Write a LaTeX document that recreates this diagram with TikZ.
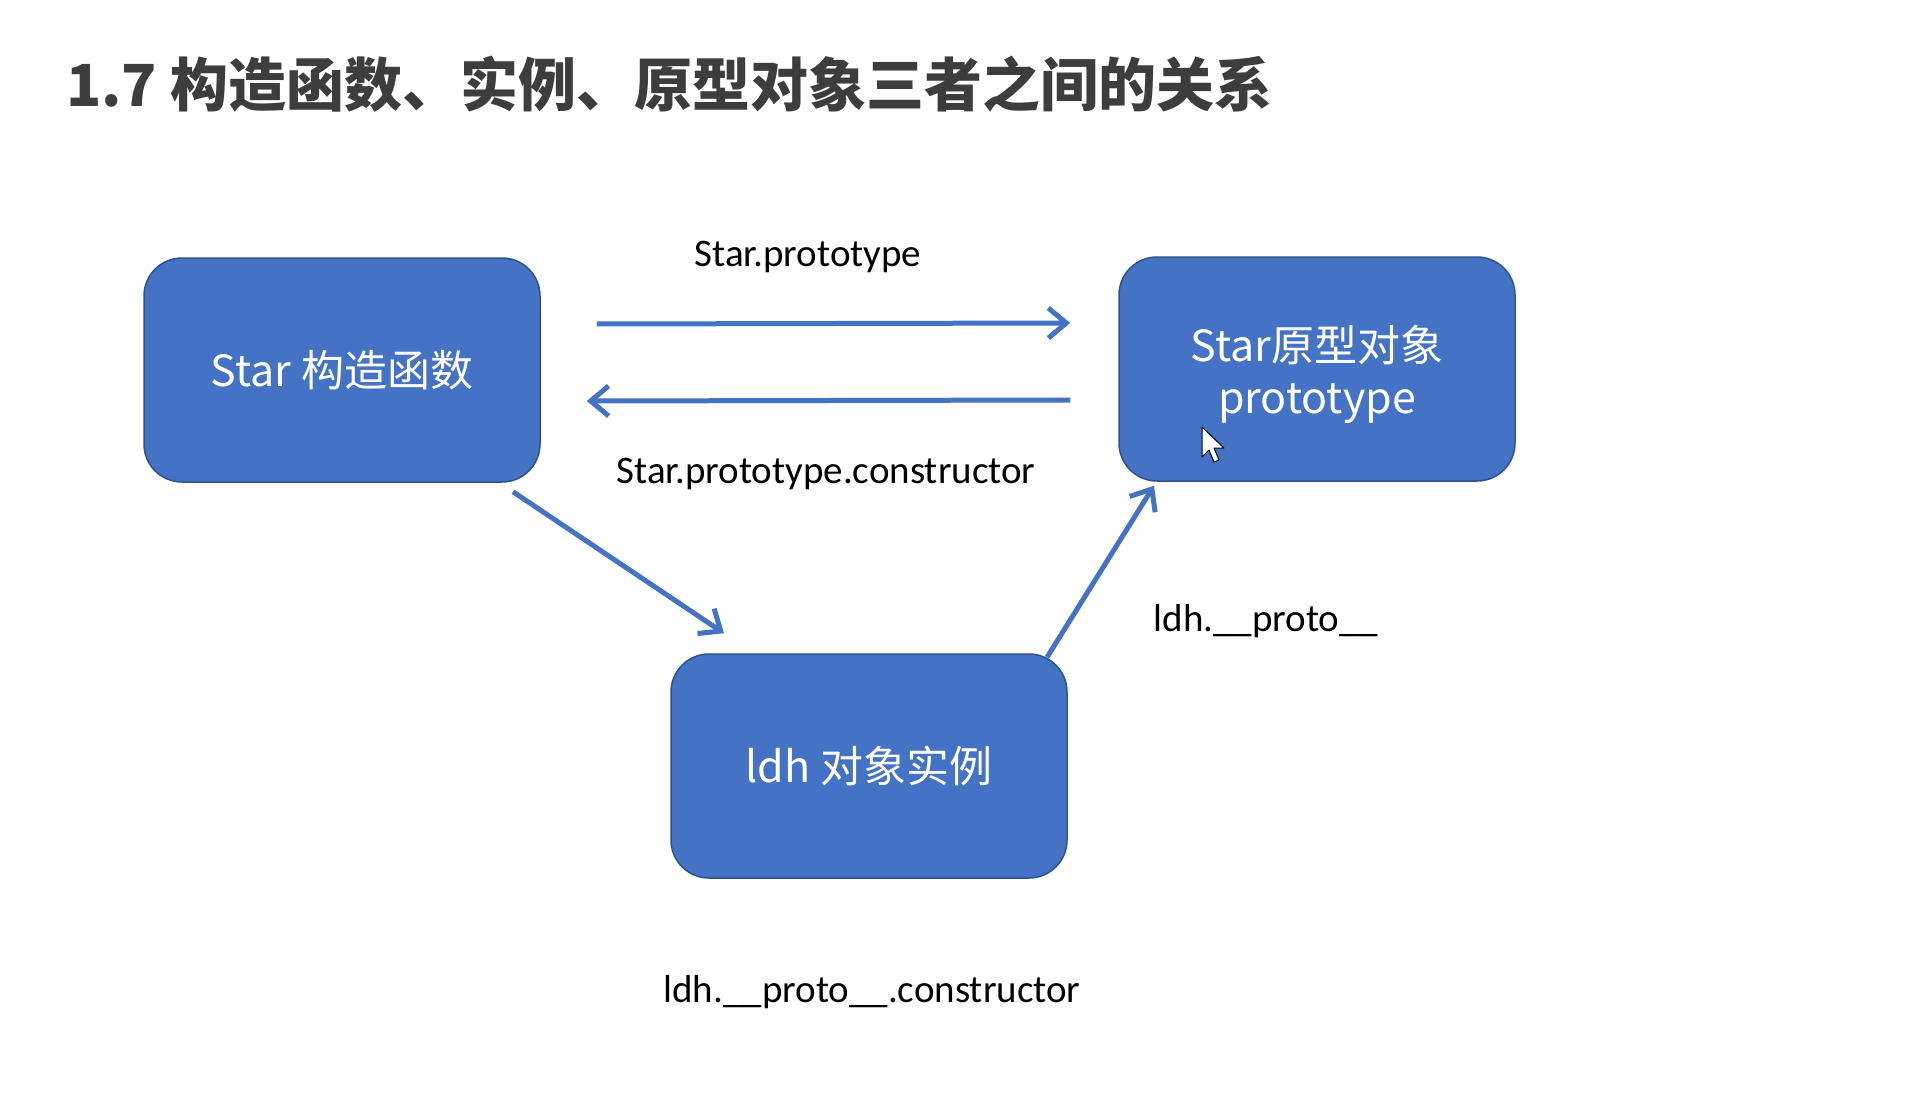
\documentclass[tikz,border=0pt]{standalone}
\usepackage{fontspec}
\newfontfamily\cjk{Noto Sans CJK SC}
\newfontfamily\lbl{Carlito}
\usetikzlibrary{arrows.meta,calc}
\definecolor{boxblue}{HTML}{4472C4}
\definecolor{boxedge}{HTML}{2F528F}
\definecolor{titlegray}{HTML}{3D3D3D}
\begin{document}
\begin{tikzpicture}[x=1pt,y=-1pt,
 box/.style={draw=boxedge, line width=1.5pt, fill=boxblue, rounded corners=38pt,
   minimum width=396pt, minimum height=224pt, inner sep=0pt, text=white,
   align=center, font=\cjk\fontsize{43}{52}\selectfont},
 conn/.style={draw=boxblue, line width=5pt, -{Straight Barb[length=18pt,width=30pt]}},
 lab/.style={font=\lbl\fontsize{39}{46}\selectfont, text=black, inner sep=0pt}]
\useasboundingbox (0,0) rectangle (1920,1097);
\fill[white] (0,0) rectangle (1920,1097);

\node[anchor=west, inner sep=0pt, text=titlegray, font=\cjk\bfseries\fontsize{58}{70}\selectfont] (title) at (66,84) {1.7 构造函数、实例、原型对象三者之间的关系};

\node[box] (star) at (342,370) {Star 构造函数};
\node[box] (proto) at (1317,369) {\rule{0pt}{48pt}Star原型对象\\prototype};
\node[box] (idh) at (869,766) {ldh 对象实例};

\draw[conn] ($(star.east)+(56,-46)$) -- ($(proto.west)+(-48,-46)$);
\draw[conn] ($(proto.west)+(-48,31)$) -- ($(star.east)+(46,31)$);
\draw[conn] ($(star.south)+(171,9)$) -- ($(idh.north)+(-145,-20)$);
\draw[conn] ($(idh.north)+(178,4)$) -- ($(proto.south)+(-163,4)$);

\node[lab] (l1) at (808,257) {Star.prototype};
\node[lab] (l2) at (826,474) {Star.prototype.constructor};
\node[lab] (l3) at (1266,621) {ldh.\_\_proto\_\_};
\node[lab] (l4) at (872,992) {ldh.\_\_proto\_\_.constructor};

% mouse cursor
\draw[fill=white, draw=black, line width=1pt, line join=round]
  (1202,427) -- (1202,457) -- (1209,450) -- (1214,462) -- (1219,460) -- (1214,448) -- (1224,448) -- cycle;
\end{tikzpicture}
\end{document}
